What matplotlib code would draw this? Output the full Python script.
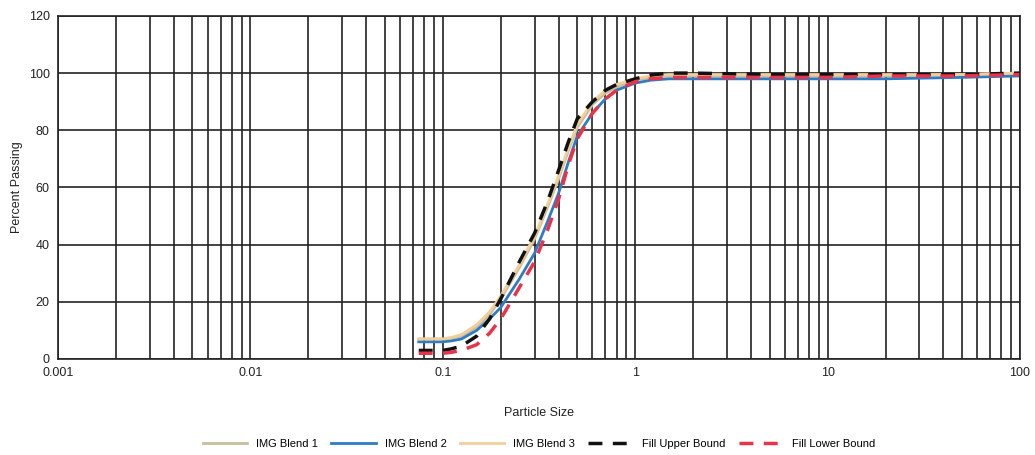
import matplotlib
matplotlib.use("Agg")
import matplotlib.pyplot as plt
from matplotlib.ticker import LogLocator, FixedLocator, NullFormatter

sizes  = [0.075, 0.09, 0.1, 0.11, 0.125, 0.15, 0.175, 0.2, 0.25, 0.3, 0.35, 0.4, 0.45, 0.5, 0.6, 0.7, 0.8, 1.0, 1.2, 1.5, 2.0, 5.0, 10.0, 20.0, 50.0, 100.0]
blend1 = [7, 7, 7, 7.3, 8, 11, 15.5, 21, 32, 42, 53, 63, 73, 81, 89, 93, 95, 97.5, 98.5, 99, 99, 99, 99, 99, 99.5, 100]
blend2 = [6, 6, 6, 6.3, 7, 10, 14, 18, 28, 37, 48, 58, 69, 78, 86, 91, 94, 96.5, 97.5, 98, 98, 98, 98, 98, 98.5, 99]
blend3 = [7, 7, 7, 7.5, 8.5, 12, 16.5, 22, 33, 43, 54, 64, 74, 82, 90, 94, 96, 98, 99, 99.5, 99.5, 99.5, 99.5, 99.5, 99.5, 100]
upper  = [3, 3, 3, 3.5, 4.5, 8, 14, 21, 34, 44, 55, 66, 76, 84, 90, 94, 96, 98, 99.3, 100, 100, 99.5, 99.5, 99.5, 99.5, 100]
lower  = [2, 2, 2, 2.3, 3, 5, 9, 14, 25, 34, 45, 56, 68, 77, 86, 91, 94, 97, 98, 98.5, 98.5, 98.5, 98.5, 99, 99, 99.5]

labels = ["IMG Blend 1", "IMG Blend 2", "IMG Blend 3", "Fill Upper Bound", "Fill Lower Bound"]
yticks = [0, 20, 40, 60, 80, 100, 120]
xticks = [0.001, 0.01, 0.1, 1, 10, 100]
xticklabels = ["0.001", "0.01", "0.1", "1", "10", "100"]

plt.rcParams['font.family'] = ['Liberation Sans', 'DejaVu Sans']
fig = plt.figure(figsize=(10.35, 4.55), dpi=100)
ax = fig.add_axes([0.056, 0.211, 0.9295, 0.754])

ax.plot(sizes, blend1, color="#c9bd9f", lw=2, label=labels[0])
ax.plot(sizes, blend2, color="#2f7cc4", lw=2, label=labels[1])
ax.plot(sizes, blend3, color="#f2cf98", lw=2, label=labels[2])
ax.plot(sizes, upper, color="#111111", lw=2.5, ls=(0, (4, 3)), label=labels[3])
ax.plot(sizes, lower, color="#e8334a", lw=2.5, ls=(0, (4, 3)), label=labels[4])

ax.set_xscale("log")
ax.set_xlim(0.001, 100)
ax.set_ylim(0, 120)
ax.xaxis.set_major_locator(FixedLocator(xticks))
ax.set_xticklabels(xticklabels)
ax.xaxis.set_minor_locator(LogLocator(base=10, subs=range(2, 10)))
ax.xaxis.set_minor_formatter(NullFormatter())
ax.set_yticks(yticks)
ax.grid(True, which="major", color="#222222", lw=1.2)
ax.grid(True, which="minor", axis="x", color="#222222", lw=1.2)
ax.set_axisbelow(True)
for s in ax.spines.values():
    s.set_color("#222222")
    s.set_linewidth(1.2)
ax.tick_params(which="both", length=0, labelsize=9, colors="#222222", pad=6)

ax.set_xlabel("Particle Size", fontsize=9, labelpad=20, color="#222222")
ax.set_ylabel("Percent Passing", fontsize=9, color="#222222")

ax.legend(loc="upper center", bbox_to_anchor=(0.5, -0.205), ncol=5, frameon=False,
          fontsize=8, handlelength=4, columnspacing=1.2)

fig.savefig("out.png", dpi=100)
